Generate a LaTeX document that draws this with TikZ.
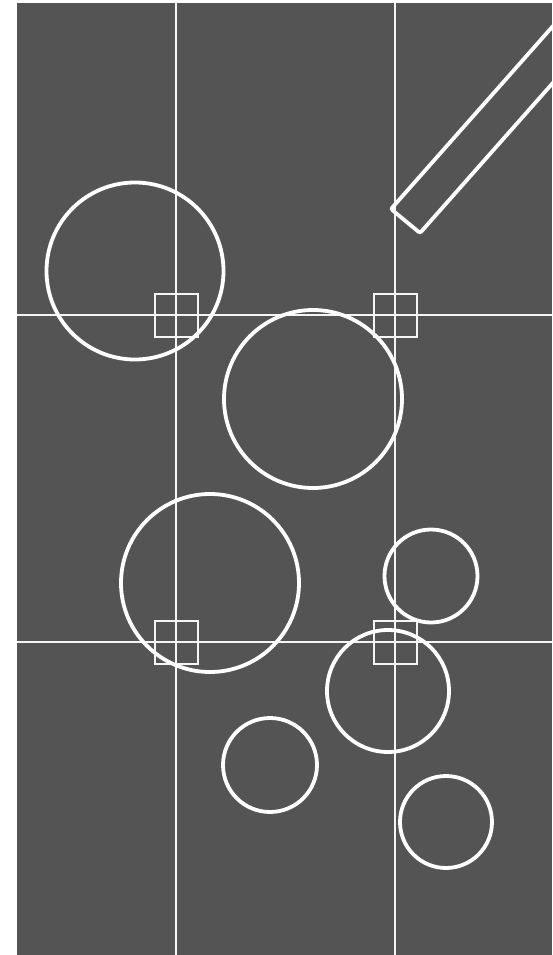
\documentclass[tikz,border=0pt]{standalone}
\usepackage{tikz}
\usetikzlibrary{calc}

\begin{document}
\begin{tikzpicture}[x=1pt, y=-1pt, guide/.style={draw=white!92!gray, line width=2pt}, ring/.style={draw=white, line width=3.8pt}]
  \useasboundingbox (0,0) rectangle (552,955);
  \fill[gray!66!black] (17,3) rectangle (552,955);
  % guide lines and the four marks on their crossings
  \foreach \x in {176,395}\draw[guide] (\x,3) -- (\x,955);
  \foreach \y in {315,642}\draw[guide] (17,\y) -- (552,\y);
  \foreach \x in {176,395}\foreach \y in {315,642}
    \draw[guide] (\x-21.5,\y-21.5) rectangle (\x+21.5,\y+21.5);
  % circles
  \foreach \cx/\cy/\r in {135/271/88.5, 313/399/89, 210/583/89, 431/576/46.5, 388/691/61, 270/765/47, 446/822/46}
    \draw[ring] (\cx,\cy) circle (\r);
  % bar leaving the frame
  \begin{scope}
    \clip (17,3) rectangle (552,955);
    \coordinate (b1) at (391,209);
    \coordinate (b2) at (420,233);
    \draw[ring, rounded corners=2pt] ($(b1)+(193,-218)$) -- (b1) -- (b2) -- ($(b2)+(193,-218)$);
  \end{scope}
\end{tikzpicture}
\end{document}
